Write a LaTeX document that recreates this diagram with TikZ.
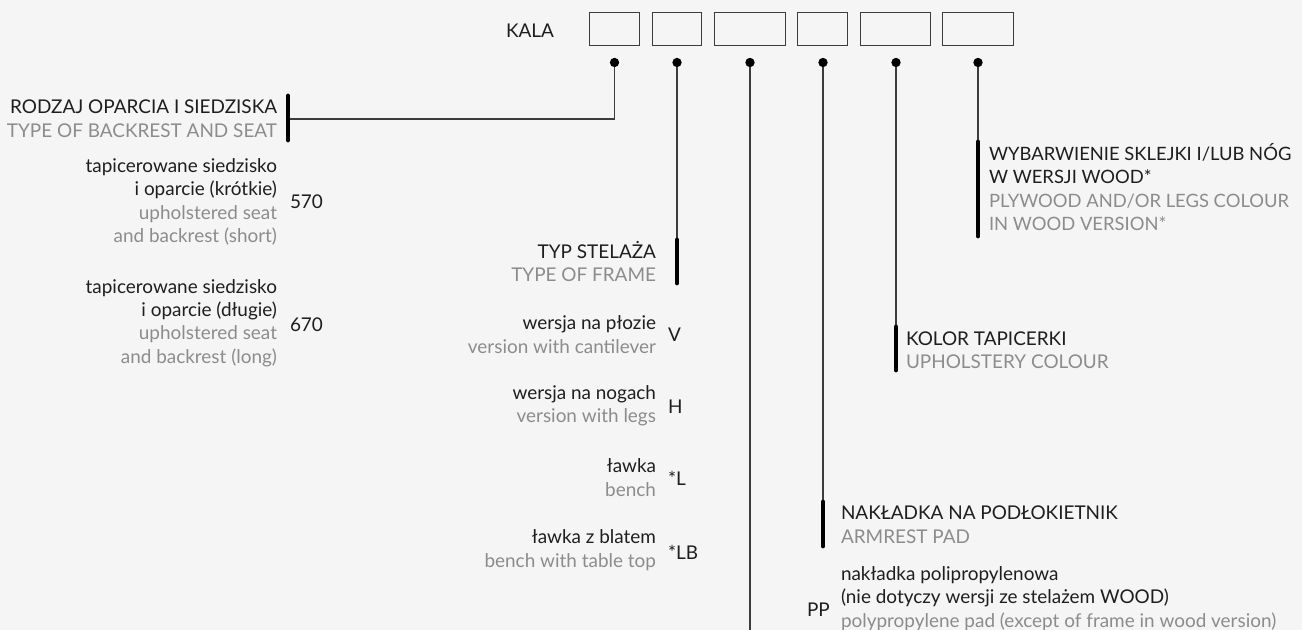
\documentclass[tikz,border=0pt]{standalone}
\usepackage{fontspec}
\setmainfont{Lato}
\usepackage{tikz}
\definecolor{bgcol}{HTML}{F4F5F4}
\definecolor{engrey}{HTML}{8C8C8C}
\definecolor{txtblack}{HTML}{1E1E1E}
\definecolor{linegrey}{HTML}{3C3C3C}
\newcommand{\en}[1]{{\color{engrey}#1}}

\begin{document}
\begin{tikzpicture}[x=0.75pt, y=-0.75pt,
  every node/.style={inner sep=0pt, outer sep=0pt, font=\fontsize{14.2}{17.6}\selectfont, text=txtblack},
  box/.style={draw=linegrey, line width=0.75pt, minimum height=24.75pt},
  dot/.style={circle, fill=black, minimum size=7pt},
  lead/.style={draw=linegrey, line width=0.85pt},
  bar/.style={line width=3.6pt, line cap=round},
  lhs/.style={anchor=east, align=right},
  rhs/.style={anchor=west, align=left}]
\path[use as bounding box, fill=bgcol] (0,0) rectangle (1302,630);

\node[anchor=east] (kala) at (554,31) {KALA};
\node[box, minimum width=37.5pt] (B1) at (614.5,29) {};
\node[box, minimum width=36.75pt] (B2) at (676.5,29) {};
\node[box, minimum width=53.25pt] (B3) at (749.5,29) {};
\node[box, minimum width=37.5pt] (B4) at (822.5,29) {};
\node[box, minimum width=52.5pt] (B5) at (895.5,29) {};
\node[box, minimum width=53.25pt] (B6) at (977.5,29) {};

\node[dot] (D1) at (614.5,62.5) {};
\node[dot] (D2) at (677,62.5) {};
\node[dot] (D3) at (750,62.5) {};
\node[dot] (D4) at (823,62.5) {};
\node[dot] (D5) at (896,62.5) {};
\node[dot] (D6) at (978,62.5) {};

\coordinate (R1) at (288,119);
\coordinate (S2) at (677,240);
\coordinate (E3) at (750,630);
\coordinate (N4) at (823,502);
\coordinate (K5) at (896,327);
\coordinate (W6) at (978,142);

\draw[lead] (D1) |- (R1);
\draw[lead] (D2) -- (S2);
\draw[lead] (D3) -- (E3);
\draw[lead] (D4) -- (N4);
\draw[lead] (D5) -- (K5);
\draw[lead] (D6) -- (W6);

\draw[bar] (288,96) -- (288,140);
\draw[bar] (S2) -- (677,283);
\draw[bar] (N4) -- (823,546);
\draw[bar] (K5) -- (896,370);
\draw[bar] (W6) -- (978,236);

\node[lhs] (rodzaj) at (277,118.5) {RODZAJ OPARCIA I SIEDZISKA\\\en{TYPE OF BACKREST AND SEAT}};
\node[lhs] (opt570) at (277,202) {tapicerowane siedzisko\\i oparcie (krótkie)\\\en{upholstered seat}\\\en{and backrest (short)}};
\node[rhs] (c570) at (290,202) {570};
\node[lhs] (opt670) at (277,323) {tapicerowane siedzisko\\i oparcie (długie)\\\en{upholstered seat}\\\en{and backrest (long)}};
\node[rhs] (c670) at (290,325) {670};

\node[lhs] (typ) at (656,261.5) {TYP STELAŻA\\\en{TYPE OF FRAME}};
\node[lhs] (optV) at (656,334.5) {wersja na płozie\\\en{version with cantilever}};
\node[rhs] (cV) at (668,334.5) {V};
\node[lhs] (optH) at (656,405.5) {wersja na nogach\\\en{version with legs}};
\node[rhs] (cH) at (668,407) {H};
\node[lhs] (optL) at (656,477.5) {ławka\\\en{bench}};
\node[rhs] (cL) at (668,478) {*L};
\node[lhs] (optLB) at (656,550) {ławka z blatem\\\en{bench with table top}};
\node[rhs] (cLB) at (668,552) {*LB};

\node[rhs, font=\fontsize{13.8}{17.6}\selectfont] (wyb) at (989,187) {WYBARWIENIE SKLEJKI I/LUB NÓG\\W WERSJI WOOD*\\\en{PLYWOOD AND/OR LEGS COLOUR}\\\en{IN WOOD VERSION*}};
\node[rhs] (kolor) at (906,350) {KOLOR TAPICERKI\\\en{UPHOLSTERY COLOUR}};
\node[rhs] (nakl) at (841,524.5) {NAKŁADKA NA PODŁOKIETNIK\\\en{ARMREST PAD}};
\node[rhs] (optPP) at (841,598.5) {nakładka polipropylenowa\\(nie dotyczy wersji ze stelażem WOOD)\\\en{polypropylene pad (except of frame in wood version)}};
\node[rhs] (cPP) at (807,610) {PP};
\end{tikzpicture}
\end{document}
